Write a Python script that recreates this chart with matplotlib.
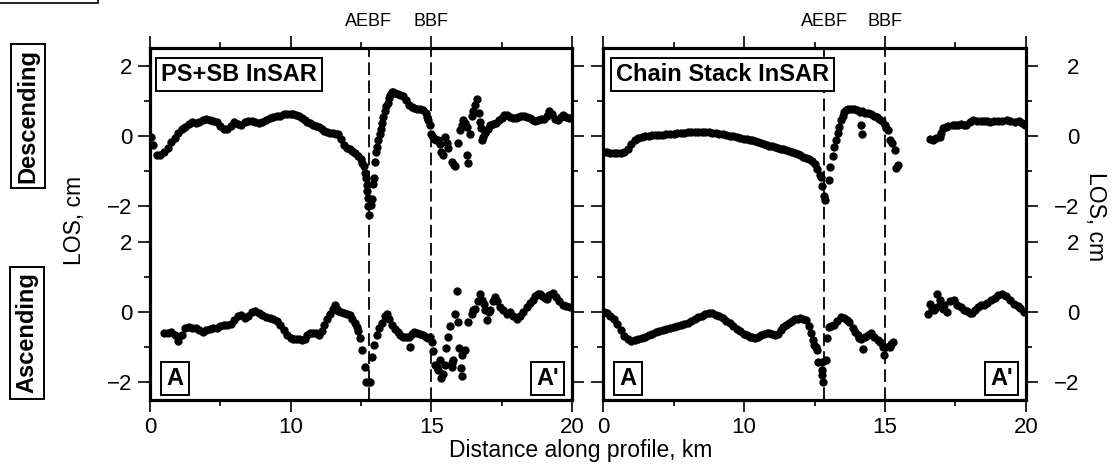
import numpy as np
import matplotlib
matplotlib.use("Agg")
import matplotlib.pyplot as plt
from matplotlib.patches import Rectangle

plt.rcParams['font.family'] = ['Liberation Sans', 'DejaVu Sans']

# fault positions along profile, km
ps_faults = [12.77, 15.0]
cs_faults = [12.85, 15.0]
fault_names = ["AEBF", "BBF"]

# (distance km, LOS cm)
ps_desc = [
    (0.1, -0.02), (0.25, -0.25), (0.5, -0.55), (0.75, -0.55), (1.0, -0.46), (1.25, -0.33), (1.5, -0.18), (1.75, -0.05),
    (2.0, 0.10), (2.25, 0.20), (2.5, 0.27), (2.75, 0.35), (3.0, 0.40), (3.25, 0.38), (3.5, 0.40), (3.75, 0.45),
    (4.0, 0.48), (4.25, 0.46), (4.5, 0.44), (4.75, 0.40), (5.0, 0.28), (5.25, 0.19), (5.5, 0.21), (5.75, 0.28),
    (6.0, 0.40), (6.25, 0.33), (6.5, 0.32), (6.75, 0.40), (7.0, 0.44), (7.25, 0.43), (7.5, 0.40), (7.75, 0.38),
    (8.0, 0.40), (8.25, 0.46), (8.5, 0.50), (8.75, 0.55), (9.0, 0.57), (9.25, 0.58), (9.5, 0.62), (9.75, 0.64),
    (10.0, 0.63), (10.1, 0.62), (10.2, 0.60), (10.3, 0.56), (10.4, 0.50), (10.5, 0.45), (10.6, 0.40), (10.7, 0.36),
    (10.8, 0.32), (10.9, 0.29), (11.0, 0.26), (11.1, 0.20), (11.2, 0.15), (11.3, 0.12), (11.4, 0.10), (11.5, 0.08),
    (11.6, 0.07), (11.7, 0.05), (11.8, -0.08), (11.9, -0.25), (12.0, -0.34), (12.1, -0.38), (12.2, -0.42), (12.3, -0.48),
    (12.4, -0.56), (12.5, -0.66), (12.55, -0.76), (12.6, -0.86), (12.65, -1.05), (12.68, -1.20), (12.7, -1.38), (12.72, -1.55),
    (12.74, -1.76), (12.75, -1.98), (12.77, -2.25), (12.86, -1.95), (12.88, -1.78), (12.92, -1.35), (12.95, -1.20), (12.99, -0.75),
    (13.02, -0.45), (13.07, -0.30), (13.12, -0.11), (13.16, 0.05), (13.2, 0.20), (13.25, 0.38), (13.3, 0.55), (13.35, 0.70),
    (13.4, 0.85), (13.45, 0.95), (13.5, 1.08), (13.55, 1.18), (13.6, 1.24), (13.65, 1.26), (13.7, 1.22), (13.8, 1.20),
    (13.9, 1.18), (14.0, 1.15), (14.1, 1.02), (14.2, 0.88), (14.3, 0.83), (14.4, 0.80), (14.5, 0.78), (14.6, 0.77),
    (14.7, 0.74), (14.8, 0.65), (14.85, 0.55), (14.9, 0.45), (14.95, 0.30), (15.0, 0.05), (15.05, -0.02), (15.1, -0.08),
    (15.18, -0.11), (15.25, -0.12), (15.3, -0.22), (15.36, -0.44), (15.4, -0.53), (15.48, -0.02), (15.55, -0.20), (15.6, -0.35),
    (15.75, -0.75), (15.8, -0.82), (15.85, -0.85), (15.96, -0.21), (16.02, 0.17), (16.08, 0.30), (16.14, 0.45), (16.2, 0.38),
    (16.26, 0.26), (16.26, -0.53), (16.32, -0.77), (16.38, 0.05), (16.44, 0.56), (16.5, 0.70), (16.56, 0.88), (16.62, 1.04),
    (16.68, 0.66), (16.72, 0.40), (16.76, 0.22), (16.8, -0.11), (16.85, -0.02), (16.91, 0.08), (17.0, 0.20), (17.1, 0.30),
    (17.2, 0.33), (17.3, 0.38), (17.4, 0.45), (17.5, 0.52), (17.6, 0.60), (17.7, 0.60), (17.8, 0.55), (17.9, 0.50),
    (18.0, 0.52), (18.1, 0.55), (18.2, 0.58), (18.3, 0.58), (18.4, 0.55), (18.5, 0.50), (18.6, 0.46), (18.7, 0.44),
    (18.8, 0.46), (18.9, 0.47), (19.0, 0.48), (19.1, 0.58), (19.2, 0.72), (19.3, 0.62), (19.4, 0.48), (19.5, 0.46),
    (19.6, 0.55), (19.7, 0.59), (19.8, 0.55), (19.9, 0.52), (20.0, 0.52),
]

ps_asc = [
    (1.0, -0.61), (1.25, -0.60), (1.5, -0.56), (1.75, -0.65), (2.0, -0.82), (2.25, -0.65), (2.5, -0.45), (2.75, -0.42),
    (3.0, -0.44), (3.25, -0.45), (3.5, -0.50), (3.75, -0.56), (4.0, -0.52), (4.25, -0.48), (4.5, -0.45), (4.75, -0.45),
    (5.0, -0.40), (5.25, -0.38), (5.5, -0.36), (5.75, -0.33), (6.0, -0.22), (6.25, -0.12), (6.5, -0.09), (6.75, -0.18),
    (7.0, -0.12), (7.25, 0.00), (7.5, 0.04), (7.75, -0.02), (8.0, -0.08), (8.25, -0.13), (8.5, -0.16), (8.75, -0.20),
    (9.0, -0.26), (9.25, -0.38), (9.5, -0.52), (9.75, -0.66), (10.0, -0.75), (10.1, -0.77), (10.2, -0.78), (10.3, -0.78),
    (10.4, -0.79), (10.5, -0.76), (10.6, -0.65), (10.7, -0.59), (10.8, -0.60), (10.9, -0.60), (11.0, -0.65), (11.1, -0.55),
    (11.2, -0.38), (11.3, -0.19), (11.4, -0.05), (11.5, 0.10), (11.58, 0.19), (11.65, 0.10), (11.7, 0.02), (11.8, 0.00),
    (11.9, -0.04), (12.0, -0.06), (12.1, -0.09), (12.2, -0.20), (12.3, -0.32), (12.35, -0.42), (12.4, -0.55), (12.47, -0.75),
    (12.53, -1.08), (12.65, -1.55), (12.69, -1.98), (12.78, -1.98), (12.83, -1.98), (12.91, -1.27), (12.97, -0.94), (13.06, -0.66),
    (13.15, -0.45), (13.25, -0.30), (13.35, -0.12), (13.42, -0.06), (13.5, -0.20), (13.6, -0.36), (13.7, -0.48), (13.8, -0.58),
    (13.9, -0.65), (14.0, -0.71), (14.1, -0.72), (14.2, -0.70), (14.24, -0.99), (14.3, -0.62), (14.4, -0.58), (14.5, -0.60),
    (14.6, -0.62), (14.7, -0.65), (14.8, -0.70), (14.9, -0.74), (14.96, -0.72), (15.02, -0.85), (15.07, -1.10), (15.13, -1.51),
    (15.2, -1.55), (15.25, -1.65), (15.3, -1.36), (15.36, -1.88), (15.42, -1.75), (15.48, -1.51), (15.54, -1.03), (15.6, -0.71),
    (15.65, -0.40), (15.72, -1.45), (15.75, -1.55), (15.77, -1.36), (15.83, -0.05), (15.92, 0.61), (15.95, -0.28), (16.0, -1.03),
    (16.04, -1.60), (16.08, -1.83), (16.1, -1.22), (16.2, -1.08), (16.32, -0.28), (16.44, -0.05), (16.5, 0.05), (16.56, 0.10),
    (16.65, 0.30), (16.74, 0.52), (16.8, 0.35), (16.86, 0.24), (16.92, 0.05), (16.98, -0.24), (17.05, 0.00), (17.1, 0.05),
    (17.2, 0.30), (17.28, 0.43), (17.35, 0.30), (17.46, 0.15), (17.55, 0.05), (17.68, -0.05), (17.8, 0.00), (17.9, -0.10),
    (18.03, -0.19), (18.15, -0.10), (18.25, 0.00), (18.39, 0.15), (18.5, 0.25), (18.6, 0.35), (18.7, 0.45), (18.8, 0.50),
    (18.86, 0.52), (18.95, 0.45), (19.05, 0.40), (19.1, 0.38), (19.2, 0.48), (19.33, 0.54), (19.45, 0.42), (19.55, 0.30),
    (19.69, 0.19), (19.8, 0.16), (19.93, 0.15),
]

cs_desc = [
    (0.1, -0.44), (0.25, -0.46), (0.5, -0.48), (0.75, -0.49), (1.0, -0.49), (1.25, -0.47), (1.5, -0.44), (1.75, -0.36),
    (2.0, -0.22), (2.25, -0.10), (2.5, -0.05), (2.75, -0.03), (3.0, -0.01), (3.25, 0.01), (3.5, 0.03), (3.75, 0.04),
    (4.0, 0.03), (4.25, 0.04), (4.5, 0.05), (4.75, 0.06), (5.0, 0.07), (5.25, 0.08), (5.5, 0.08), (5.75, 0.10),
    (6.0, 0.11), (6.25, 0.12), (6.5, 0.12), (6.75, 0.12), (7.0, 0.12), (7.25, 0.12), (7.5, 0.11), (7.75, 0.10),
    (8.0, 0.08), (8.25, 0.07), (8.5, 0.05), (8.75, 0.03), (9.0, 0.01), (9.25, -0.01), (9.5, -0.03), (9.75, -0.05),
    (10.0, -0.07), (10.1, -0.08), (10.2, -0.10), (10.3, -0.12), (10.4, -0.15), (10.5, -0.18), (10.6, -0.21), (10.7, -0.23),
    (10.8, -0.25), (10.9, -0.27), (11.0, -0.29), (11.1, -0.31), (11.2, -0.33), (11.3, -0.36), (11.4, -0.38), (11.5, -0.40),
    (11.6, -0.43), (11.7, -0.46), (11.8, -0.49), (11.9, -0.52), (12.0, -0.55), (12.1, -0.59), (12.2, -0.62), (12.3, -0.66),
    (12.4, -0.72), (12.5, -0.80), (12.6, -0.95), (12.7, -1.10), (12.73, -1.15), (12.78, -1.43), (12.85, -1.71), (12.87, -1.81),
    (13.0, -1.24), (13.05, -0.89), (13.14, -0.58), (13.2, -0.30), (13.26, -0.10), (13.32, 0.08), (13.38, 0.26), (13.44, 0.45),
    (13.5, 0.58), (13.56, 0.68), (13.62, 0.73), (13.7, 0.76), (13.8, 0.78), (13.9, 0.77), (14.0, 0.74), (14.1, 0.68),
    (14.15, 0.31), (14.19, 0.05), (14.2, 0.70), (14.3, 0.66), (14.4, 0.66), (14.5, 0.64), (14.6, 0.58), (14.7, 0.54),
    (14.8, 0.48), (14.9, 0.42), (15.0, 0.32), (15.05, 0.24), (15.1, 0.17), (15.16, -0.11), (15.25, -0.20), (15.34, -0.40),
    (15.4, -0.91), (15.45, -0.82),
    (16.6, -0.09), (16.7, -0.10), (16.8, -0.05), (16.94, -0.02), (17.0, 0.10), (17.06, 0.22), (17.15, 0.25), (17.25, 0.28),
    (17.41, 0.31), (17.5, 0.30), (17.6, 0.32), (17.7, 0.33), (17.8, 0.32), (17.89, 0.31), (18.0, 0.40), (18.13, 0.45),
    (18.25, 0.44), (18.4, 0.42), (18.5, 0.42), (18.6, 0.42), (18.72, 0.40), (18.85, 0.42), (19.0, 0.43), (19.15, 0.44),
    (19.31, 0.45), (19.45, 0.42), (19.6, 0.41), (19.75, 0.42), (19.85, 0.36), (19.95, 0.30),
]

cs_asc = [
    (0.1, 0.00), (0.25, -0.02), (0.5, -0.12), (0.75, -0.20), (1.0, -0.35), (1.25, -0.52), (1.5, -0.68), (1.75, -0.78),
    (2.0, -0.82), (2.25, -0.80), (2.5, -0.78), (2.75, -0.74), (3.0, -0.70), (3.25, -0.66), (3.5, -0.62), (3.75, -0.57),
    (4.0, -0.53), (4.25, -0.50), (4.5, -0.47), (4.75, -0.44), (5.0, -0.42), (5.25, -0.40), (5.5, -0.38), (5.75, -0.34),
    (6.0, -0.30), (6.25, -0.25), (6.5, -0.20), (6.75, -0.15), (7.0, -0.10), (7.25, -0.07), (7.5, -0.04), (7.75, -0.03),
    (8.0, -0.08), (8.25, -0.12), (8.5, -0.18), (8.75, -0.25), (9.0, -0.32), (9.25, -0.40), (9.5, -0.48), (9.75, -0.55),
    (10.0, -0.62), (10.1, -0.66), (10.2, -0.70), (10.3, -0.72), (10.4, -0.73), (10.5, -0.70), (10.6, -0.66), (10.7, -0.62),
    (10.8, -0.60), (10.9, -0.60), (11.0, -0.62), (11.1, -0.65), (11.2, -0.62), (11.3, -0.50), (11.4, -0.42), (11.5, -0.36),
    (11.6, -0.30), (11.7, -0.25), (11.8, -0.21), (11.9, -0.19), (12.0, -0.18), (12.1, -0.20), (12.2, -0.23), (12.3, -0.40),
    (12.37, -0.61), (12.43, -0.80), (12.49, -0.94), (12.55, -1.00), (12.6, -1.08), (12.64, -1.41), (12.76, -1.65), (12.78, -1.41),
    (12.78, -1.79), (12.81, -2.00), (12.9, -1.36), (12.96, -0.75), (13.02, -0.42), (13.1, -0.40), (13.2, -0.38), (13.3, -0.25),
    (13.44, -0.14), (13.55, -0.16), (13.65, -0.22), (13.74, -0.28), (13.85, -0.45), (13.95, -0.56), (14.03, -0.65), (14.09, -0.75),
    (14.15, -0.78), (14.23, -1.06), (14.3, -0.72), (14.4, -0.65), (14.5, -0.61), (14.6, -0.70), (14.74, -0.80), (14.82, -0.85),
    (14.92, -0.99), (14.98, -1.22), (15.05, -1.00), (15.16, -0.99), (15.22, -0.92), (15.28, -0.85),
    (16.53, -0.05), (16.6, 0.24), (16.65, 0.10), (16.75, 0.05), (16.84, 0.15), (16.86, 0.52), (16.96, 0.33), (17.05, 0.10),
    (17.1, 0.20), (17.2, 0.00), (17.3, 0.30), (17.44, 0.33), (17.55, 0.20), (17.68, 0.15), (17.8, 0.05), (17.9, 0.02),
    (18.0, -0.02), (18.1, -0.02), (18.2, 0.05), (18.3, 0.15), (18.4, 0.19), (18.5, 0.20), (18.6, 0.25), (18.75, 0.33),
    (18.9, 0.40), (19.0, 0.48), (19.15, 0.52), (19.3, 0.45), (19.45, 0.34), (19.56, 0.24), (19.7, 0.18), (19.8, 0.12),
    (19.93, 0.00),
]

x_major = [0, 10, 15, 20]
x_minor = [5, 12.5, 17.5]
y_major = [2, 0, -2, -3, -5, -7]
y_labels = ["2", "0", "\u22122", "2", "0", "\u22122"]
y_minor = [1, -1, -4, -6]
asc_shift = -5  # ascending profile drawn in the lower half


def fwd(x):
    x = np.asarray(x, dtype=float)
    return np.where(x < 10, x, 2 * x - 10)


def inv(x):
    x = np.asarray(x, dtype=float)
    return np.where(x < 10, x, (x + 10) / 2)


def box():
    return dict(boxstyle="square,pad=0.22", fc="white", ec="k", lw=1.4)


fig = plt.figure(figsize=(11.14, 4.71), dpi=100)
ax1 = fig.add_axes([0.1346, 0.1507, 0.3788, 0.7473])
ax2 = fig.add_axes([0.5413, 0.1507, 0.3797, 0.7473])

for ax, desc, asc, faults, title in [(ax1, ps_desc, ps_asc, ps_faults, "PS+SB InSAR"),
                                     (ax2, cs_desc, cs_asc, cs_faults, "Chain Stack InSAR")]:
    ax.set_xscale("function", functions=(fwd, inv))
    d = np.array(desc)
    a = np.array(asc)
    ax.plot(d[:, 0], d[:, 1], "o", color="k", ms=6, mew=0)
    ax.plot(a[:, 0], a[:, 1] + asc_shift, "o", color="k", ms=6, mew=0)
    for f, name in zip(faults, fault_names):
        ax.axvline(f, color="k", lw=1.3, ls=(0, (7, 3)))
        ax.text(f, 1.075, name, transform=ax.get_xaxis_transform(), ha="center", va="center", fontsize=13)
    ax.set_xlim(0, 20)
    ax.set_ylim(-7.5, 2.5)
    ax.set_xticks(x_major)
    ax.set_xticklabels([str(v) for v in x_major])
    ax.set_xticks(x_minor, minor=True)
    ax.set_yticks(y_major)
    ax.set_yticklabels(y_labels)
    ax.set_yticks(y_minor, minor=True)
    ax.tick_params(which="both", direction="out", top=True, right=True, labelsize=16, width=1.2)
    ax.tick_params(which="major", length=8.5, pad=4)
    ax.tick_params(which="minor", length=4)
    for s in ax.spines.values():
        s.set_linewidth(2.3)
    ax.text(0.026 if ax is ax1 else 0.03, 0.925, title, transform=ax.transAxes, ha="left", va="center",
            fontsize=17, fontweight="bold", bbox=box())
    ax.text(0.059, 0.062, "A", transform=ax.transAxes, ha="center", va="center",
            fontsize=17, fontweight="bold", bbox=box())
    ax.text(0.943, 0.062, "A'", transform=ax.transAxes, ha="center", va="center",
            fontsize=17, fontweight="bold", bbox=box())

ax1.tick_params(axis="y", labelleft=True, labelright=False)
ax2.tick_params(axis="y", labelleft=False, labelright=True)
for lab in ax2.get_yticklabels():
    lab.set_horizontalalignment("right")
ax2.tick_params(axis="y", which="major", pad=30)

fig.text(75 / 1114, 1 - 220 / 471, "LOS, cm", rotation=90, ha="center", va="center", fontsize=16.5)
fig.text(1095 / 1114, 1 - 217 / 471, "LOS, cm", rotation=270, ha="center", va="center", fontsize=16.5)
fig.text(581 / 1114, 1 - 457 / 471, "Distance along profile, km", ha="center", va="baseline", fontsize=16.5)
fig.text(28 / 1114, 1 - 116 / 471, "Descending", rotation=90, ha="center", va="center",
         fontsize=17, fontweight="bold", bbox=box())
fig.text(27 / 1114, 1 - 333 / 471, "Ascending", rotation=90, ha="center", va="center",
         fontsize=17, fontweight="bold", bbox=box())

# panel letter box cut off at the top-left corner
fig.add_artist(Rectangle((-0.05, 1 - 3 / 471), 98 / 1114 + 0.05, 0.2, transform=fig.transFigure,
                         fill=False, ec="k", lw=1.2))

fig.savefig("out.png", dpi=100)
